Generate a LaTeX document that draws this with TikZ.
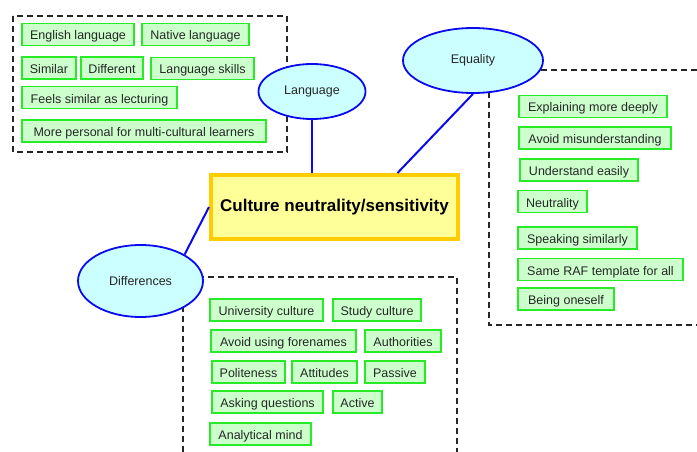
\documentclass[tikz,border=0pt]{standalone}
\usepackage{fontspec}
\setmainfont{Liberation Sans}
\usetikzlibrary{shapes.geometric}
\definecolor{itemline}{RGB}{40,235,40}
\definecolor{itemfill}{RGB}{204,255,204}
\definecolor{topicline}{RGB}{10,10,240}
\definecolor{topicfill}{RGB}{204,255,255}
\definecolor{coreline}{RGB}{255,204,0}
\definecolor{corefill}{RGB}{255,255,153}
\tikzset{
  item/.style={draw=itemline, fill=itemfill, line width=1.8pt, inner sep=0pt,
    minimum height=22pt, text height=13pt, text depth=2pt,
    font=\fontsize{12.5}{14}\selectfont, text=black!85},
  topic/.style={ellipse, draw=topicline, fill=topicfill, line width=1.8pt, inner sep=0pt,
    font=\fontsize{12.5}{14}\selectfont, text=black!85},
  core/.style={draw=coreline, fill=corefill, line width=4pt, inner sep=0pt,
    minimum width=247pt, minimum height=64pt, font=\fontsize{17}{20}\selectfont\bfseries},
  link/.style={draw=topicline, line width=2pt},
  group/.style={draw=black!85, line width=1.4pt, dash pattern=on 6pt off 4pt}
}
\begin{document}
\begin{tikzpicture}[x=1pt,y=-1pt]
\useasboundingbox (0,0) rectangle (697,452);

% dashed frames around each group of items
\draw[group] (13,16) rectangle (287,152);
\draw[group] (697,70) -- (489,70) -- (489,325) -- (697,325);
\draw[group] (183,452) -- (183,277) -- (457,277) -- (457,452);

% central topic
\node[core] (cen) at (334.5,207) {Culture neutrality/sensitivity};

% sub-topics
\node[topic, minimum width=107pt, minimum height=55pt] (lang) at (312,91.5) {Language};
\node[topic, minimum width=140pt, minimum height=65pt] (eq) at (473,60.5) {Equality};
\node[topic, minimum width=125pt, minimum height=72pt] (dif) at (140.5,281) {Differences};

% connectors
\draw[link] (lang.south) -- (lang.south |- cen.north);
\draw[link] (eq.south) -- ([xshift=63pt]cen.north);
\draw[link] (cen.west) -- (dif.31);

% language items
\node[item, minimum width=112pt] (eng) at (78,34.5) {English language};
\node[item, minimum width=107pt] (nat) at (195.5,34.5) {Native language};
\node[item, minimum width=54pt] (sim) at (49,68) {Similar};
\node[item, minimum width=62pt] (dff) at (112,68) {Different};
\node[item, minimum width=103pt] (lsk) at (202.5,68.5) {Language skills};
\node[item, minimum width=155pt] (fee) at (99.5,97.5) {Feels similar as lecturing};
\node[item, minimum width=244pt] (mor) at (144,131) {More personal for multi-cultural learners};

% equality items
\node[item, minimum width=148pt] (exp) at (593,106.5) {Explaining more deeply};
\node[item, minimum width=152pt] (avo) at (595,138) {Avoid misunderstanding};
\node[item, minimum width=118pt] (und) at (579,170) {Understand easily};
\node[item, minimum width=69pt] (neu) at (552.5,201.5) {Neutrality};
\node[item, minimum width=119pt] (spk) at (577.5,238) {Speaking similarly};
\node[item, minimum width=165pt] (raf) at (600.5,269.5) {Same RAF template for all};
\node[item, minimum width=96pt] (bei) at (566,299) {Being oneself};

% differences items
\node[item, minimum width=113pt] (uni) at (266.5,310) {University culture};
\node[item, minimum width=88pt] (stu) at (377,310) {Study culture};
\node[item, minimum width=145pt] (avu) at (283.5,341) {Avoid using forenames};
\node[item, minimum width=76pt] (aut) at (403,341) {Authorities};
\node[item, minimum width=73pt] (pol) at (248.5,372) {Politeness};
\node[item, minimum width=65pt] (att) at (324.5,372) {Attitudes};
\node[item, minimum width=60pt] (pas) at (395,372) {Passive};
\node[item, minimum width=111pt] (ask) at (267.5,402) {Asking questions};
\node[item, minimum width=49pt] (act) at (357.5,402) {Active};
\node[item, minimum width=101pt] (ana) at (260.5,434) {Analytical mind};
\end{tikzpicture}
\end{document}
